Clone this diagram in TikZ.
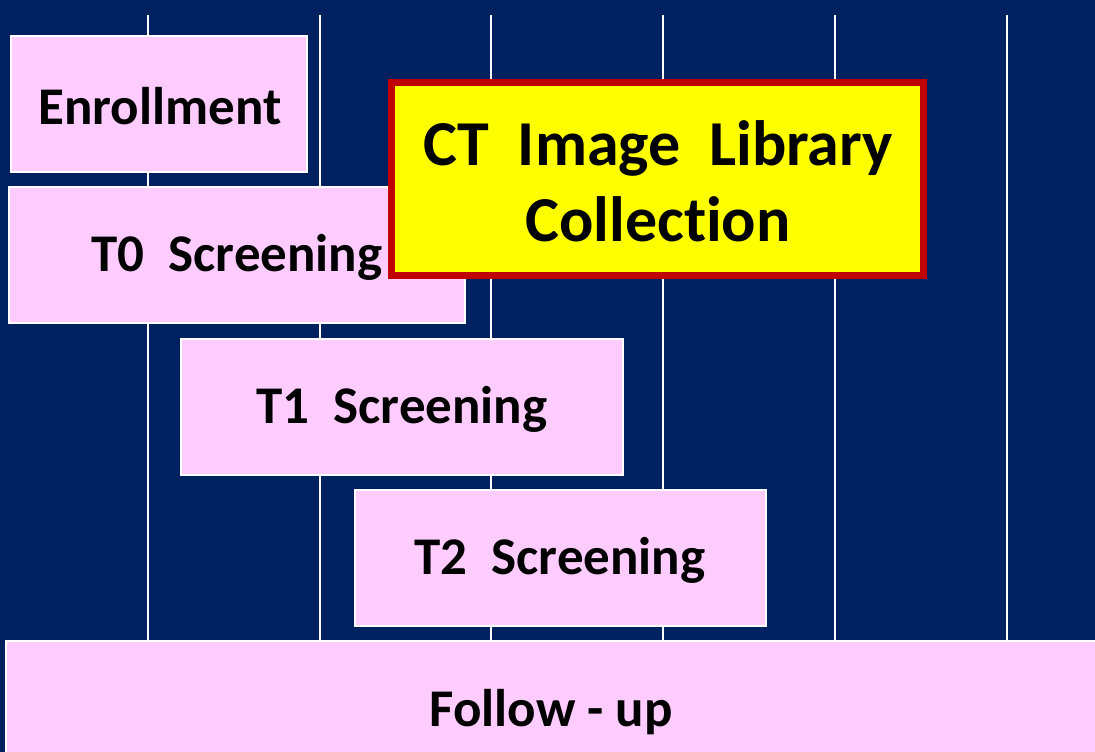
\documentclass[tikz,border=0pt]{standalone}
\usepackage{fontspec}
\setmainfont[Ligatures=NoCommon]{Carlito}
\definecolor{bgblue}{RGB}{0,32,96}
\definecolor{pinkfill}{RGB}{255,204,255}
\definecolor{redline}{RGB}{192,0,0}
\definecolor{ctyellow}{RGB}{255,255,0}
\begin{document}
\begin{tikzpicture}[x=1pt,y=-1pt,
  grid/.style={draw=white,line width=1.6pt},
  phase/.style={draw=white,line width=1.8pt,fill=pinkfill},
  lbl/.style={font=\fontsize{53}{60}\selectfont\bfseries,text=black,inner sep=0pt},
  ctbox/.style={draw=redline,line width=7pt,fill=ctyellow},
  ctlbl/.style={font=\fontsize{64}{76}\selectfont\bfseries,text=black,align=center,inner sep=0pt}]
\fill[bgblue] (0,0) rectangle (1095,752);
\useasboundingbox (0,0) rectangle (1095,752);
\foreach \x in {148,320,491,663,835,1007}
  \draw[grid] (\x,15) -- (\x,640);
\draw[phase] (11,36) rectangle (307,172);
\node[lbl] (enr) at (160,106) {Enrollment};
\draw[phase] (9,187) rectangle (465,323);
\node[lbl] (t0) at (237,257) {T0\ \ Screening};
\draw[phase] (181,339) rectangle (623,475);
\node[lbl] (t1) at (402,409) {T1\ \ Screening};
\draw[phase] (355,490) rectangle (766,626);
\node[lbl] (t2) at (560,560) {T2\ \ Screening};
\draw[phase] (6,641) rectangle (1110,790);
\node[lbl] (fu) at (551,712) {Follow - up};
\draw[ctbox] (391.5,82.5) rectangle (923.5,275.5);
\node[ctlbl] (ct) at (658,181) {CT\ \ Image\ \ Library\\Collection};
\end{tikzpicture}
\end{document}
